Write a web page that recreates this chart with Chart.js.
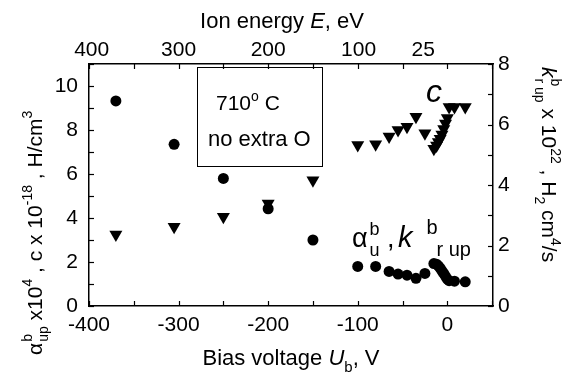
<!DOCTYPE html>
<html lang="en">
<head>
<meta charset="UTF-8">
<title>Bias voltage dependence</title>
<script src="https://cdn.jsdelivr.net/npm/chart.js"></script>
<style>
  html, body { margin: 0; padding: 0; background: #fff; }
  #wrap { width: 563px; height: 378px; }
</style>
</head>
<body>
<div id="wrap"><canvas id="chart" width="563" height="378"></canvas></div>
<script>
// bias voltage U_b (V) of each measurement
const biasV = [-370, -305, -250, -200, -150, -100, -80, -65, -55, -45, -35, -25,
               -15, -12, -10, -8, -6, -4, -2, 0, 2, 8, 20];
// alpha^b_up x10^4 (circles, left axis)
const alphaUp = [9.32, 7.35, 5.8, 4.42, 3.0, 1.8, 1.8, 1.57, 1.45, 1.4, 1.26, 1.48,
                 1.93, 1.9, 1.82, 1.72, 1.6, 1.48, 1.35, 1.22, 1.15, 1.13, 1.1];
// c x 10^-18 H/cm^3 (triangles, left axis)
const cConc = [3.25, 3.6, 4.06, 4.66, 5.72, 7.32, 7.35, 7.7, 8.0, 8.15, 8.6, 7.85,
               7.15, 7.3, 7.45, 7.6, 7.8, 8.05, 8.3, 8.55, 9.05, 9.05, 9.05];

const xTicks = [-400, -300, -200, -100, 0];
const xMinorTicks = [-400, -350, -300, -250, -200, -150, -100, -50, 0, 50];
const topTickPos = [-397, -300, -200, -99, -27];
const topTickLabels = ['400', '300', '200', '100', '25'];
const yTicks = [0, 2, 4, 6, 8, 10];
const yMinorTicks = [0, 1, 2, 3, 4, 5, 6, 7, 8, 9, 10, 11];
const y2Ticks = [0, 2, 4, 6, 8];
const y2MinorTicks = [0, 1, 2, 3, 4, 5, 6, 7, 8];

const FONT = '"Liberation Sans", Arial, Helvetica, sans-serif';
const FS = 21;

function toPoints(xs, ys) {
    return xs.map((x, i) => ({ x: x, y: ys[i] }));
}

// text with super/subscripts, drawn along a baseline starting at (x, y)
function richWidth(ctx, segs, size) {
    let w = 0;
    segs.forEach(s => {
        const it = s.i ? 'italic ' : '';
        if (s.t) {
            ctx.font = it + size + 'px ' + FONT;
            w += ctx.measureText(s.t).width;
        } else {
            ctx.font = it + Math.round(size * 0.68) + 'px ' + FONT;
            let ww = 0;
            if (s.sup) ww = Math.max(ww, ctx.measureText(s.sup).width);
            if (s.sub) ww = Math.max(ww, ctx.measureText(s.sub).width + (s.subDx || 0));
            w += ww + (s.dx || 0);
        }
    });
    return w;
}

function drawRich(ctx, segs, x, y, size, angle) {
    ctx.save();
    ctx.translate(x, y);
    ctx.rotate(angle || 0);
    ctx.fillStyle = '#000';
    ctx.textAlign = 'left';
    ctx.textBaseline = 'alphabetic';
    let cx = 0;
    segs.forEach(s => {
        const it = s.i ? 'italic ' : '';
        if (s.t) {
            ctx.font = it + size + 'px ' + FONT;
            ctx.fillText(s.t, cx, 0);
            cx += ctx.measureText(s.t).width;
        } else {
            cx += s.dx || 0;
            ctx.font = it + Math.round(size * 0.68) + 'px ' + FONT;
            let ww = 0;
            if (s.sup) {
                ctx.fillText(s.sup, cx, -size * 0.45);
                ww = Math.max(ww, ctx.measureText(s.sup).width);
            }
            if (s.sub) {
                const sd = s.subDx || 0;
                ctx.fillText(s.sub, cx + sd, size * 0.32);
                ww = Math.max(ww, ctx.measureText(s.sub).width + sd);
            }
            cx += ww;
        }
    });
    ctx.restore();
}

const decorations = {
    id: 'decorations',
    afterDraw(chart) {
        const { ctx, chartArea: a, scales } = chart;
        ctx.save();
        ctx.strokeStyle = '#000';
        ctx.lineWidth = 1.2;
        const line = (x1, y1, x2, y2) => {
            ctx.beginPath(); ctx.moveTo(x1, y1); ctx.lineTo(x2, y2); ctx.stroke();
        };
        // inward tick marks
        xMinorTicks.forEach(v => {
            const px = Math.round(scales.x.getPixelForValue(v)) + 0.5;
            line(px, a.bottom, px, a.bottom - 5);
            line(px, a.top, px, a.top + 5);
        });
        yMinorTicks.forEach(v => {
            const py = Math.round(scales.y.getPixelForValue(v)) + 0.5;
            line(a.left, py, a.left + 5, py);
        });
        y2MinorTicks.forEach(v => {
            const py = Math.round(scales.y2.getPixelForValue(v)) + 0.5;
            line(a.right, py, a.right - 5, py);
        });

        // legend box
        ctx.lineWidth = 1;
        ctx.strokeRect(197.5, 67.5, 125, 99);
        drawRich(ctx, [{ t: '710' }, { sup: 'o' }, { t: ' C' }], 216, 110, 21);
        drawRich(ctx, [{ t: 'no extra O' }], 208, 146, 22);

        // series annotations
        drawRich(ctx, [{ t: 'c', i: true }], 426, 102, 32);
        drawRich(ctx, [{ t: '\u03b1' }, { sup: 'b', sub: 'u', dx: 2 }, { t: ' ,' }], 352, 247, 27);
        drawRich(ctx, [{ t: 'k', i: true }, { sup: 'b', sub: 'r up', dx: 14, subDx: 10 }], 398, 247, 29);

        // axis titles
        const top = [{ t: 'Ion energy ' }, { t: 'E', i: true }, { t: ', eV' }];
        drawRich(ctx, top, 282 - richWidth(ctx, top, 22) / 2, 28, 22);
        const bottom = [{ t: 'Bias voltage ' }, { t: 'U', i: true }, { sub: 'b' }, { t: ', V' }];
        drawRich(ctx, bottom, 291 - richWidth(ctx, bottom, 22) / 2, 365, 22);
        drawRich(ctx, [{ t: '\u03b1' }, { sup: 'b', sub: 'up', dx: 1 }, { t: ' x10' }, { sup: '4' },
                       { t: ' , c x 10' }, { sup: '-18' }, { t: ' , H/cm' }, { sup: '3' }],
                 41.5, 355, FS, -Math.PI / 2);
        drawRich(ctx, [{ t: 'k', i: true }, { sup: 'b', sub: 'r up', dx: 1 }, { t: ' x 10' }, { sup: '22' },
                       { t: ' , H' }, { sub: '2' }, { t: ' cm' }, { sup: '4' }, { t: '/s' }],
                 542, 67, FS, Math.PI / 2);
        ctx.restore();
    }
};

const tickFont = { family: FONT, size: FS };
const borderStyle = { display: true, color: '#000', width: 1.5 };

new Chart(document.getElementById('chart'), {
    type: 'scatter',
    data: {
        datasets: [
            {
                label: 'c',
                data: toPoints(biasV, cConc),
                pointStyle: 'triangle',
                rotation: 180,
                radius: 7.5,
                backgroundColor: '#000',
                borderColor: '#000',
                borderWidth: 0,
                xAxisID: 'x',
                yAxisID: 'y'
            },
            {
                label: 'alpha',
                data: toPoints(biasV, alphaUp),
                pointStyle: 'circle',
                radius: 5.5,
                backgroundColor: '#000',
                borderColor: '#000',
                borderWidth: 0,
                xAxisID: 'x',
                yAxisID: 'y'
            }
        ]
    },
    options: {
        responsive: false,
        animation: false,
        layout: { padding: 0 },
        plugins: { legend: { display: false }, tooltip: { enabled: false } },
        scales: {
            x: {
                type: 'linear', position: 'bottom', min: -400, max: 51,
                afterFit(s) { s.height = 72; },
                afterBuildTicks(s) { s.ticks = xTicks.map(v => ({ value: v })); },
                grid: { display: false, drawTicks: false },
                border: borderStyle,
                ticks: { color: '#000', font: tickFont, padding: 7, maxRotation: 0, autoSkip: false,
                         callback: v => String(v) }
            },
            x2: {
                type: 'linear', position: 'top', min: -400, max: 51,
                afterFit(s) { s.height = 64; },
                afterBuildTicks(s) { s.ticks = topTickPos.map(v => ({ value: v })); },
                grid: { display: false, drawTicks: false },
                border: borderStyle,
                ticks: { color: '#000', font: tickFont, padding: 1, maxRotation: 0, autoSkip: false,
                         callback: (v, i) => topTickLabels[i] }
            },
            y: {
                type: 'linear', position: 'left', min: 0, max: 11,
                afterFit(s) { s.width = 89; },
                afterBuildTicks(s) { s.ticks = yTicks.map(v => ({ value: v })); },
                grid: { display: false, drawTicks: false },
                border: borderStyle,
                ticks: { color: '#000', font: tickFont, padding: 11, callback: v => String(v) }
            },
            y2: {
                type: 'linear', position: 'right', min: 0, max: 8,
                afterFit(s) { s.width = 70; },
                afterBuildTicks(s) { s.ticks = y2Ticks.map(v => ({ value: v })); },
                grid: { display: false, drawTicks: false },
                border: borderStyle,
                ticks: { color: '#000', font: tickFont, padding: 5, callback: v => String(v) }
            }
        }
    },
    plugins: [decorations]
});
</script>
</body>
</html>
